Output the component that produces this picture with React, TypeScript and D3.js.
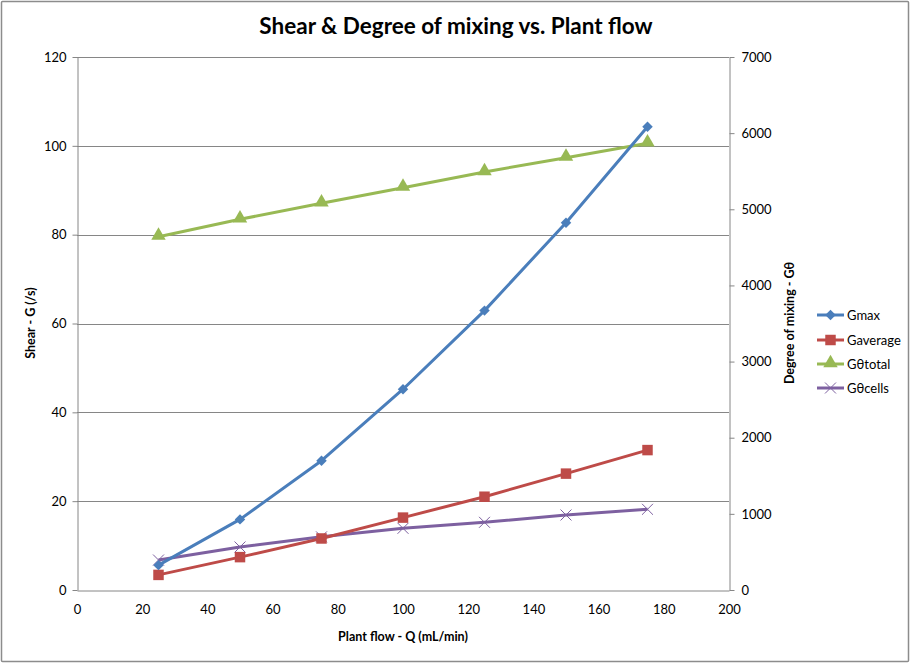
import { useRef, useEffect } from 'react';
import * as d3 from "d3";

// plant flow (mL/min)
const flows = [25, 50, 75, 100, 125, 150, 175];
// left axis: shear G (/s)
const gMax = [5.6, 15.9, 29.1, 45.2, 62.9, 82.7, 104.3];
const gAverage = [3.4, 7.4, 11.6, 16.3, 21.0, 26.2, 31.5];
// right axis: degree of mixing
const gThetaTotal = [4640, 4869, 5079, 5284, 5490, 5678, 5867];
const gThetaCells = [394, 565, 698, 810, 889, 985, 1060];

const xTicks = [0, 20, 40, 60, 80, 100, 120, 140, 160, 180, 200];
const leftTicks = [0, 20, 40, 60, 80, 100, 120];
const rightTicks = [0, 1000, 2000, 3000, 4000, 5000, 6000, 7000];

const seriesNames = ["Gmax", "Gaverage", "G\u03b8total", "G\u03b8cells"];
const seriesColors = ["#4A7EBB", "#BE4B48", "#98B954", "#7D60A0"];

const FONT = "Lato, 'Open Sans', sans-serif";

const App = () => {
  const ref = useRef<SVGSVGElement>(null);

  useEffect(() => {
    const svg = d3.select(ref.current);
    svg.selectAll("*").remove();

    const left = 77, right = 729, top = 57, bottom = 590;
    const x = d3.scaleLinear().domain([0, 200]).range([left, right]);
    const yL = d3.scaleLinear().domain([0, 120]).range([bottom, top]);
    const yR = d3.scaleLinear().domain([0, 7000]).range([bottom, top]);

    // outer frame
    svg.append("rect").attr("x", 1.5).attr("y", 1.5).attr("width", 907).attr("height", 660)
      .attr("fill", "white").attr("stroke", "#8c8c8c").attr("stroke-width", 1.5).attr("rx", 1);

    // title
    svg.append("text").attr("x", 456).attr("y", 34).attr("text-anchor", "middle")
      .attr("font-family", FONT).attr("font-weight", "bold").attr("font-size", 22.5)
      .text("Shear & Degree of mixing vs. Plant flow");

    // gridlines
    svg.append("g").selectAll("line").data(leftTicks.slice(1)).join("line")
      .attr("x1", left).attr("x2", right)
      .attr("y1", d => Math.round(yL(d)) + 0.5).attr("y2", d => Math.round(yL(d)) + 0.5)
      .attr("stroke", "#868686").attr("stroke-width", 1);

    const axisStyle = (g: any) => {
      g.select(".domain").attr("stroke", "#868686");
      g.selectAll(".tick line").attr("stroke", "#868686");
      g.selectAll(".tick text").attr("font-family", FONT).attr("font-size", 13).attr("fill", "#000");
    };

    // x axis
    svg.append("g").attr("transform", `translate(0,${bottom + 0.5})`)
      .call(d3.axisBottom(x).tickValues(xTicks).tickSize(0).tickPadding(14).tickSizeOuter(0))
      .call(axisStyle);

    // left axis
    svg.append("g").attr("transform", `translate(${left + 0.5},0)`)
      .call(d3.axisLeft(yL).tickValues(leftTicks).tickSize(5).tickPadding(6).tickSizeOuter(0))
      .call(axisStyle);

    // right axis
    svg.append("g").attr("transform", `translate(${right + 0.5},0)`)
      .call(d3.axisRight(yR).tickValues(rightTicks).tickFormat(d3.format("d")).tickSize(5).tickPadding(7).tickSizeOuter(0))
      .call(axisStyle);

    // axis titles
    svg.append("text").attr("x", 403).attr("y", 641).attr("text-anchor", "middle")
      .attr("font-family", FONT).attr("font-weight", "bold").attr("font-size", 12.5)
      .text("Plant flow - Q (mL/min)");
    svg.append("text").attr("transform", "translate(35,323) rotate(-90)").attr("text-anchor", "middle")
      .attr("font-family", FONT).attr("font-weight", "bold").attr("font-size", 12.5)
      .text("Shear - G (/s)");
    svg.append("text").attr("transform", "translate(794,323) rotate(-90)").attr("text-anchor", "middle")
      .attr("font-family", FONT).attr("font-weight", "bold").attr("font-size", 12.5)
      .text("Degree of mixing - G\u03b8");

    const symbols = [
      d3.symbol().type(d3.symbolDiamond2).size(70),
      d3.symbol().type(d3.symbolSquare).size(110),
      d3.symbol().type(d3.symbolTriangle).size(90),
      d3.symbol().type(d3.symbolX).size(80),
    ];

    const series = [
      { values: gMax, y: yL },
      { values: gAverage, y: yL },
      { values: gThetaTotal, y: yR },
      { values: gThetaCells, y: yR },
    ];

    const drawMarker = (g: any, i: number, px: number, py: number) => {
      const m = g.append("path").attr("d", symbols[i]()).attr("transform", `translate(${px},${py})`);
      if (i === 3) m.attr("fill", "none").attr("stroke", seriesColors[i]).attr("stroke-width", 1);
      else m.attr("fill", seriesColors[i]);
      if (i === 2) m.attr("transform", `translate(${px},${py - 1})`);
    };

    // draw order: Gθcells, Gθtotal, Gaverage, Gmax (Gmax on top)
    [3, 2, 1, 0].forEach(i => {
      const s = series[i];
      const g = svg.append("g");
      const line = d3.line<number>().x((_, k) => x(flows[k])).y(v => s.y(v));
      g.append("path").datum(s.values).attr("d", line).attr("fill", "none")
        .attr("stroke", seriesColors[i]).attr("stroke-width", 3).attr("stroke-linejoin", "round");
      s.values.forEach((v, k) => drawMarker(g, i, x(flows[k]), s.y(v)));
    });

    // legend
    const legendY = [315, 340, 364, 388];
    seriesNames.forEach((name, i) => {
      const g = svg.append("g");
      g.append("line").attr("x1", 817).attr("x2", 844).attr("y1", legendY[i]).attr("y2", legendY[i])
        .attr("stroke", seriesColors[i]).attr("stroke-width", 3);
      drawMarker(g, i, 830.5, legendY[i]);
      g.append("text").attr("x", 847).attr("y", legendY[i] + 4.5)
        .attr("font-family", FONT).attr("font-size", 13).text(name);
    });
  }, []);

  return (
    <div style={{ position: "absolute", left: 0, top: 0 }}>
      <svg ref={ref} width={913} height={664} />
    </div>
  );
};

export default App;
